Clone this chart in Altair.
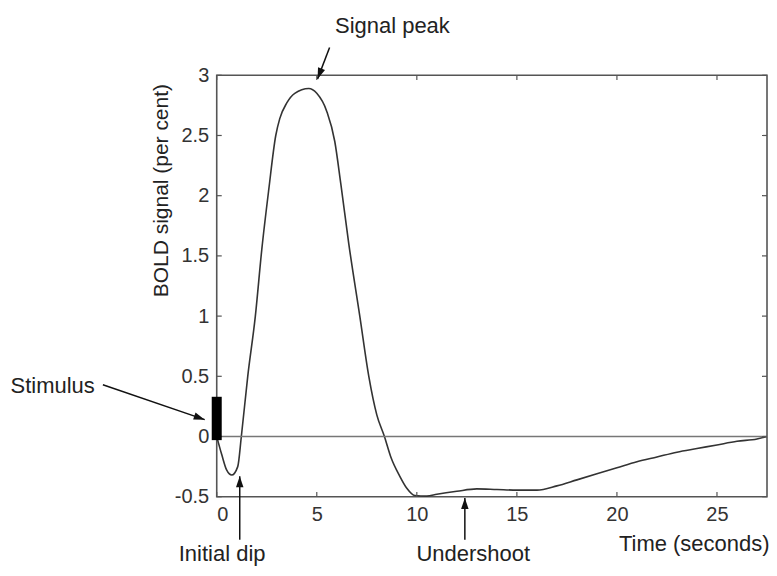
import altair as alt
import pandas as pd

# ---- data ----
time_s = [0, 0.25, 0.5, 0.75, 1.05, 1.23, 1.55, 1.93, 2.25, 2.6, 2.95, 3.15, 3.5, 3.9, 4.6,
          5.0, 5.5, 5.9, 6.2, 6.6, 7.15, 7.6, 8.0, 8.38, 8.7, 9.15, 9.5, 9.9, 10.5,
          11.0, 12.0, 13.0, 14.0, 15.0, 16.0, 17.0, 18.0, 19.0, 20.0, 21.0, 22.0,
          23.0, 24.0, 25.0, 26.0, 27.0, 27.5]
bold = [0, -0.15, -0.28, -0.32, -0.25, 0.0, 0.5, 1.0, 1.55, 2.05, 2.5, 2.64, 2.77, 2.85, 2.89,
        2.85, 2.7, 2.45, 2.1, 1.6, 1.0, 0.5, 0.18, 0.0, -0.17, -0.33, -0.43, -0.49, -0.495,
        -0.48, -0.455, -0.435, -0.44, -0.445, -0.445, -0.41, -0.36, -0.31, -0.26, -0.21, -0.17,
        -0.13, -0.10, -0.07, -0.04, -0.02, 0.0]

x_ticks = [0, 5, 10, 15, 20, 25]
y_ticks = [-0.5, 0, 0.5, 1, 1.5, 2, 2.5, 3]
x_domain = [0, 27.5]
y_domain = [-0.5, 3]

# stimulus block
stim_t = [-0.25, 0.25]
stim_v = [-0.03, 0.33]

# annotations
ann_labels = ["Signal peak", "Stimulus", "Initial dip", "Undershoot"]
ann_t = [8.78, -8.2, 0.27, 12.82]
ann_v = [3.35, 0.36, -1.035, -1.035]

arrow_tail_t = [5.64, -5.69, 1.15, 12.4]
arrow_tail_v = [3.23, 0.43, -0.857, -0.857]
arrow_tip_t = [5.04, -0.6, 1.15, 12.4]
arrow_tip_v = [2.97, 0.14, -0.33, -0.51]
arrow_angle = [201, 109, 0, 0]

FONT = "Liberation Sans"
W, H = 551, 422

curve = pd.DataFrame({"t": time_s, "v": bold})
stim = pd.DataFrame({"t0": [stim_t[0]], "t1": [stim_t[1]], "v0": [stim_v[0]], "v1": [stim_v[1]]})
ann = pd.DataFrame({"label": ann_labels, "t": ann_t, "v": ann_v})
arrows = pd.DataFrame({"t0": arrow_tail_t, "v0": arrow_tail_v,
                       "t1": arrow_tip_t, "v1": arrow_tip_v, "angle": arrow_angle})

xs = alt.Scale(domain=x_domain, nice=False, zero=False)
ys = alt.Scale(domain=y_domain, nice=False, zero=False)

x_axis = alt.Axis(values=x_ticks, title="Time (seconds)", grid=False, ticks=False, domain=False,
                  labelFont=FONT, labelFontSize=20, labelColor="#333", labelPadding=8,
                  titleFont=FONT, titleFontSize=22, titleFontWeight="normal", titleColor="#222",
                  titleAnchor="end", titleAlign="right", titleBaseline="middle",
                  titleX=W + 2, titleY=47)
y_axis = alt.Axis(values=y_ticks, title="BOLD signal (per cent)", grid=False, ticks=False,
                  domain=False, labelExpr="'' + datum.value",
                  labelFont=FONT, labelFontSize=20, labelColor="#333", labelPadding=8,
                  titleFont=FONT, titleFontSize=21, titleFontWeight="normal", titleColor="#222",
                  titleAngle=-90, titleAlign="center", titleBaseline="middle",
                  titleX=-55, titleY=115)

base = alt.Chart(curve)

line = base.mark_line(color="#333", strokeWidth=1.6, interpolate="monotone").encode(
    x=alt.X("t:Q", scale=xs, axis=x_axis),
    y=alt.Y("v:Q", scale=ys, axis=y_axis),
)

zero = alt.Chart(pd.DataFrame({"a": [x_domain[0]], "b": [x_domain[1]], "y": [0]})).mark_rule(
    color="#777", strokeWidth=1.3).encode(x="a:Q", x2="b:Q", y="y:Q")

# inward tick marks (box style)
dx_tick = 0.25
dy_tick = 0.04
xt = pd.DataFrame({"t": x_ticks})
bottom_ticks = alt.Chart(xt).mark_rule(color="#555", strokeWidth=1.2).encode(
    x="t:Q", y=alt.datum(y_domain[0]), y2=alt.datum(y_domain[0] + dy_tick))
top_ticks = alt.Chart(xt).mark_rule(color="#555", strokeWidth=1.2).encode(
    x="t:Q", y=alt.datum(y_domain[1]), y2=alt.datum(y_domain[1] - dy_tick))
yt = pd.DataFrame({"v": y_ticks})
left_ticks = alt.Chart(yt).mark_rule(color="#555", strokeWidth=1.2).encode(
    y="v:Q", x=alt.datum(x_domain[0]), x2=alt.datum(x_domain[0] + dx_tick))
right_ticks = alt.Chart(yt).mark_rule(color="#555", strokeWidth=1.2).encode(
    y="v:Q", x=alt.datum(x_domain[1]), x2=alt.datum(x_domain[1] - dx_tick))

stim_rect = alt.Chart(stim).mark_rect(color="black").encode(
    x="t0:Q", x2="t1:Q", y="v0:Q", y2="v1:Q")

shafts = alt.Chart(arrows).mark_rule(color="#111", strokeWidth=1.5).encode(
    x="t0:Q", y="v0:Q", x2="t1:Q", y2="v1:Q")
heads = alt.Chart(arrows).mark_point(
    shape="M0,0L-0.75,2.2L0.75,2.2Z", size=100, filled=True, color="#111", opacity=1
).encode(x="t1:Q", y="v1:Q", angle=alt.Angle("angle:Q", scale=None))

texts = alt.Chart(ann).mark_text(font=FONT, fontSize=22, color="#222", align="center",
                                 baseline="alphabetic").encode(x="t:Q", y="v:Q", text="label:N")

chart = alt.layer(line, zero, bottom_ticks, top_ticks, left_ticks, right_ticks,
                  stim_rect, shafts, heads, texts).properties(
    width=W, height=H,
    autosize=alt.AutoSizeParams(type="none"),
    padding={"left": 209, "top": 67, "right": 2, "bottom": 69},
    background="white",
).configure_view(stroke="#555", strokeWidth=1.6)

chart.save("out.html", embed_options={"renderer": "svg", "actions": False})
